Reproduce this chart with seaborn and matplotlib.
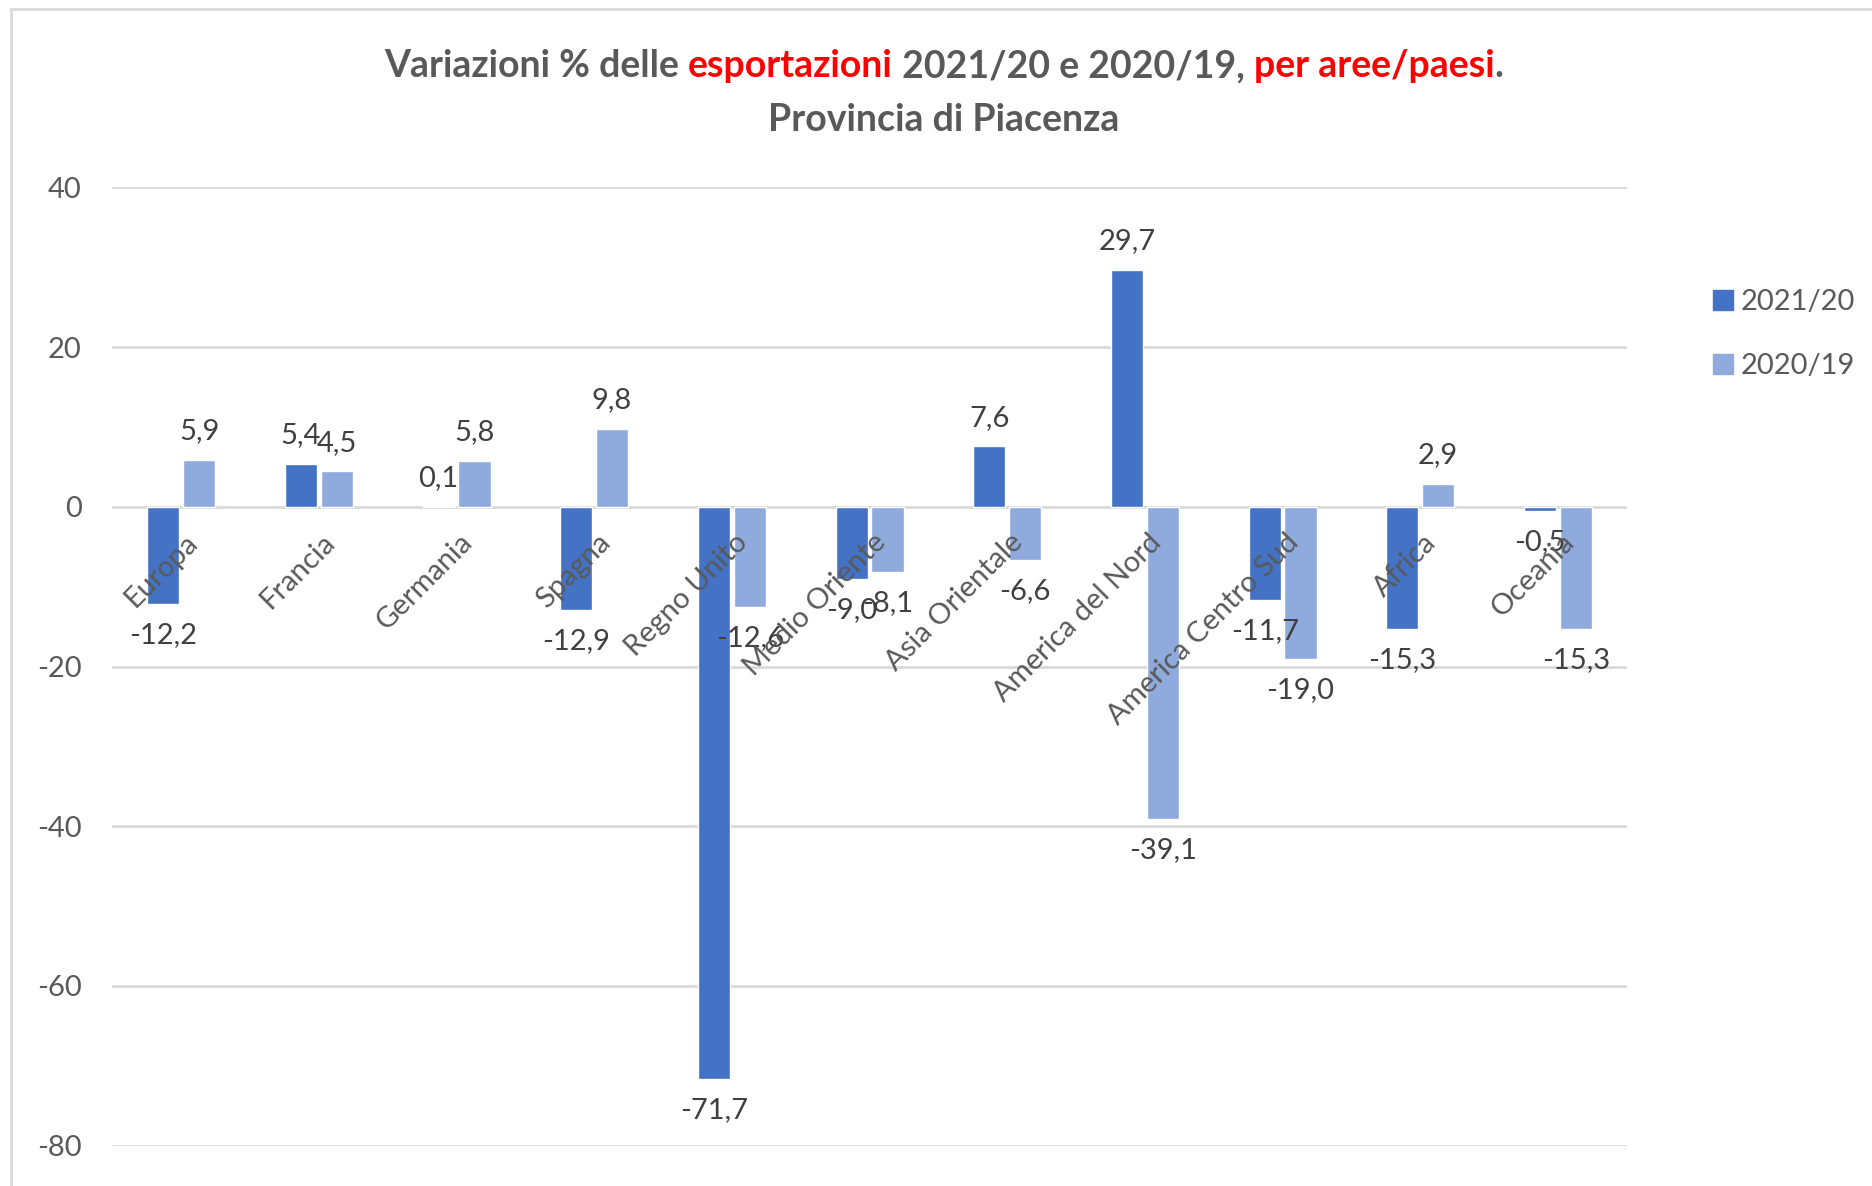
import pandas as pd
import matplotlib.pyplot as plt
import seaborn as sns
from matplotlib.patches import Rectangle
from matplotlib.lines import Line2D

# data
categories = ['Europa', 'Francia', 'Germania', 'Spagna', 'Regno Unito', 'Medio Oriente',
              'Asia Orientale', 'America del Nord', 'America Centro Sud', 'Africa', 'Oceania']
var_2021_20 = [-12.2, 5.4, 0.1, -12.9, -71.7, -9.0, 7.6, 29.7, -11.7, -15.3, -0.5]
var_2020_19 = [5.9, 4.5, 5.8, 9.8, -12.6, -8.1, -6.6, -39.1, -19.0, 2.9, -15.3]
series = ['2021/20', '2020/19']
y_ticks = [40, 20, 0, -20, -40, -60, -80]

colors = {'2021/20': '#4472C4', '2020/19': '#8FAADC'}
text_grey = '#595959'
label_grey = '#404040'

df = pd.DataFrame({
    'area': categories * 2,
    'periodo': [series[0]] * len(categories) + [series[1]] * len(categories),
    'valore': var_2021_20 + var_2020_19,
})

sns.set_theme(style='white')
plt.rcParams['font.family'] = ['Lato', 'DejaVu Sans']

fig = plt.figure(figsize=(18.72, 11.86), dpi=100)
ax = fig.add_axes([0.060, 0.034, 0.809, 0.808])

sns.barplot(data=df, x='area', y='valore', hue='periodo', hue_order=series,
            order=categories, palette=colors, width=0.52, gap=0.1,
            saturation=1, errorbar=None, legend=False, ax=ax, zorder=3)

ax.set_ylim(-80, 40)
ax.set_xlim(-0.5, len(categories) - 0.5)
ax.set_yticks(y_ticks)
ax.set_yticklabels([str(t) for t in y_ticks], fontsize=21, color=text_grey)
ax.tick_params(axis='y', length=0, pad=22)
ax.set_xticks([])
ax.set_xlabel('')
ax.set_ylabel('')
for s in ax.spines.values():
    s.set_visible(False)
ax.yaxis.grid(True, color='#D9D9D9', linewidth=2)
ax.set_axisbelow(True)

# data labels, decimal comma like the original
for cont, vals in zip(ax.containers, [var_2021_20, var_2020_19]):
    for bar, v in zip(cont, vals):
        x = bar.get_x() + bar.get_width() / 2
        off = 11 if v >= 0 else -13
        ax.annotate(f'{v:.1f}'.replace('.', ','), (x, v), xytext=(0, off),
                    textcoords='offset points', ha='center',
                    va='bottom' if v >= 0 else 'top', fontsize=21, color=label_grey,
                    zorder=5)

# category labels sitting on the zero line, rotated
for i, cat in enumerate(categories):
    ax.annotate(cat, (i + 0.02, 0), xytext=(0, -16), textcoords='offset points',
                ha='right', va='top', rotation=45, rotation_mode='anchor',
                fontsize=21, color=text_grey, zorder=6)

# legend on the right
handles = [Line2D([], [], marker='s', linestyle='', markersize=14,
                  markerfacecolor=colors[s], markeredgecolor=colors[s]) for s in series]
fig.legend(handles, series, loc='center left', bbox_to_anchor=(0.9, 0.718),
           frameon=False, fontsize=21, labelcolor=text_grey, handletextpad=0.2,
           labelspacing=1.3, handlelength=0.8)

# two-colour title
pieces = [('Variazioni % delle ', text_grey), ('esportazioni', 'red'),
          (' 2021/20 e 2020/19, ', text_grey), ('per aree/paesi', 'red'), ('.', text_grey)]
renderer = fig.canvas.get_renderer()
texts = [fig.text(0, 0.944, p, color=c, fontsize=27, fontweight='bold',
                  ha='left', va='center') for p, c in pieces]
widths = [t.get_window_extent(renderer).width / fig.bbox.width for t in texts]
x0 = 0.504 - sum(widths) / 2
for t, w in zip(texts, widths):
    t.set_x(x0)
    x0 += w
fig.text(0.504, 0.899, 'Provincia di Piacenza', color=text_grey, fontsize=27,
         fontweight='bold', ha='center', va='center')

# chart border
fig.patches.append(Rectangle((0.006, -0.01), 0.995, 1.002, transform=fig.transFigure,
                             fill=False, edgecolor='#D9D9D9', linewidth=2))

fig.savefig('out.png', dpi=100)
